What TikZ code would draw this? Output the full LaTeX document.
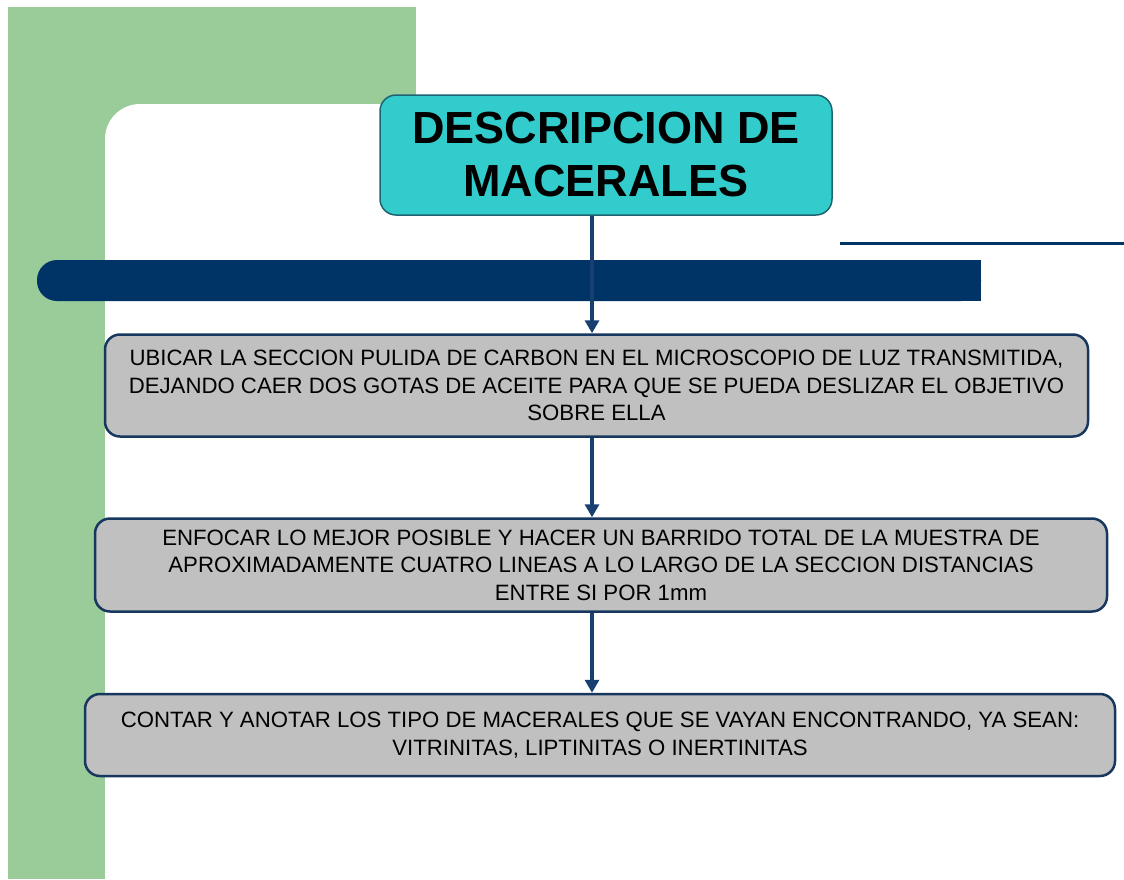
\documentclass[tikz,border=0pt]{standalone}
\usepackage{fontspec}
\setmainfont{Liberation Sans}
\usetikzlibrary{arrows.meta}
\definecolor{slidegreen}{RGB}{153,204,153}
\definecolor{barblue}{RGB}{0,51,102}
\definecolor{linkblue}{RGB}{23,64,112}
\definecolor{titlecyan}{RGB}{51,204,204}
\definecolor{titleedge}{RGB}{30,100,115}
\definecolor{boxgray}{RGB}{192,192,192}
\definecolor{boxedge}{RGB}{23,55,94}

\tikzset{
  stepbox/.style={draw=boxedge,line width=2.5,fill=boxgray,rounded corners=15,
    align=center,inner sep=0,font=\fontsize{22.2}{27.5}\selectfont},
  titlebox/.style={draw=titleedge,line width=1.5,fill=titlecyan,rounded corners=16,
    align=center,inner sep=0,font=\fontsize{45}{53}\selectfont\bfseries},
  link/.style={draw=linkblue,line width=3.5,-{Triangle[length=13,width=14]}}
}

\begin{document}
\begin{tikzpicture}[x=1pt,y=-1pt,line cap=butt]
\useasboundingbox (0,0) rectangle (1124,879);
% background
\fill[white] (0,0) rectangle (1124,879);
\fill[slidegreen] (8,7) rectangle (416,879);
\fill[white,rounded corners=35] (105,104) rectangle (1180,940);
\fill[barblue,rounded corners=20] (37,260) rectangle (981,301);
\fill[barblue] (900,260) rectangle (981,301);
\draw[barblue,line width=3] (840,243) -- (1124,243);
\coordinate (spine) at (592,0);
% steps
\node[titlebox,minimum width=452,minimum height=120] (title) at (606,155)
  {DESCRIPCION DE\\MACERALES};
\node[stepbox,minimum width=983,minimum height=102] (ubicar) at (596.5,385.5)
  {UBICAR LA SECCION PULIDA DE CARBON EN EL MICROSCOPIO DE LUZ TRANSMITIDA,\\
   DEJANDO CAER DOS GOTAS DE ACEITE PARA QUE SE PUEDA DESLIZAR EL OBJETIVO\\
   SOBRE ELLA};
\node[stepbox,minimum width=1012,minimum height=93] (enfocar) at (601,565)
  {ENFOCAR LO MEJOR POSIBLE Y HACER UN BARRIDO TOTAL DE LA MUESTRA DE\\
   APROXIMADAMENTE CUATRO LINEAS A LO LARGO DE LA SECCION DISTANCIAS\\
   ENTRE SI POR 1mm};
\node[stepbox,minimum width=1030,minimum height=82] (contar) at (600,735)
  {CONTAR Y ANOTAR LOS TIPO DE MACERALES QUE SE VAYAN ENCONTRANDO, YA SEAN:\\
   VITRINITAS, LIPTINITAS O INERTINITAS};
% connectors
\draw[link] (title.south -| spine) -- (ubicar.north -| spine);
\draw[link] (ubicar.south -| spine) -- (enfocar.north -| spine);
\draw[link] (enfocar.south -| spine) -- (contar.north -| spine);
\end{tikzpicture}
\end{document}
